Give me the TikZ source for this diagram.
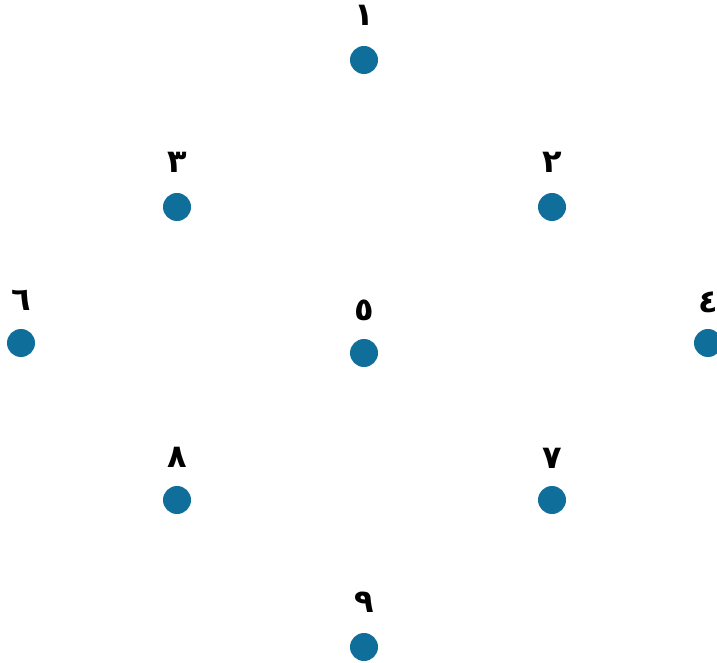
\documentclass[tikz,border=0pt]{standalone}
\usepackage{fontspec}
\newfontfamily\arabicfont[Script=Arabic]{DejaVu Sans}
\TeXXeTstate=1
\definecolor{dotblue}{RGB}{16,110,155}
\begin{document}
\begin{tikzpicture}[x=1pt,y=1pt,
  dot/.style={circle,fill=dotblue,draw=none,minimum size=28pt,inner sep=0pt},
  lbl/.style={font=\arabicfont\bfseries\fontsize{32}{36}\selectfont,inner sep=0pt,text=black}]
\useasboundingbox (0,0) rectangle (717,662);
\clip (0,0) rectangle (717,662);
\node[dot] (d1) at (364,602) {};
\node[dot] (d2) at (552,455) {};
\node[dot] (d3) at (177,455) {};
\node[dot] (d4) at (708,319) {};
\node[dot] (d5) at (364,309) {};
\node[dot] (d6) at (21,319) {};
\node[dot] (d7) at (552,162) {};
\node[dot] (d8) at (177,162) {};
\node[dot] (d9) at (364,15) {};
\node[lbl] (l1) at ([yshift=45pt]d1.center) {١};
\node[lbl] (l2) at ([yshift=45pt]d2.center) {٢};
\node[lbl] (l3) at ([yshift=45pt]d3.center) {٣};
\node[lbl] (l4) at ([yshift=41pt]d4.center) {٤};
\node[lbl] (l5) at ([yshift=43pt]d5.center) {٥};
\node[lbl] (l6) at ([yshift=43pt]d6.center) {٦};
\node[lbl] (l7) at ([yshift=42pt]d7.center) {٧};
\node[lbl] (l8) at ([yshift=43pt]d8.center) {٨};
\node[lbl] (l9) at ([yshift=45pt]d9.center) {٩};
\end{tikzpicture}
\end{document}
